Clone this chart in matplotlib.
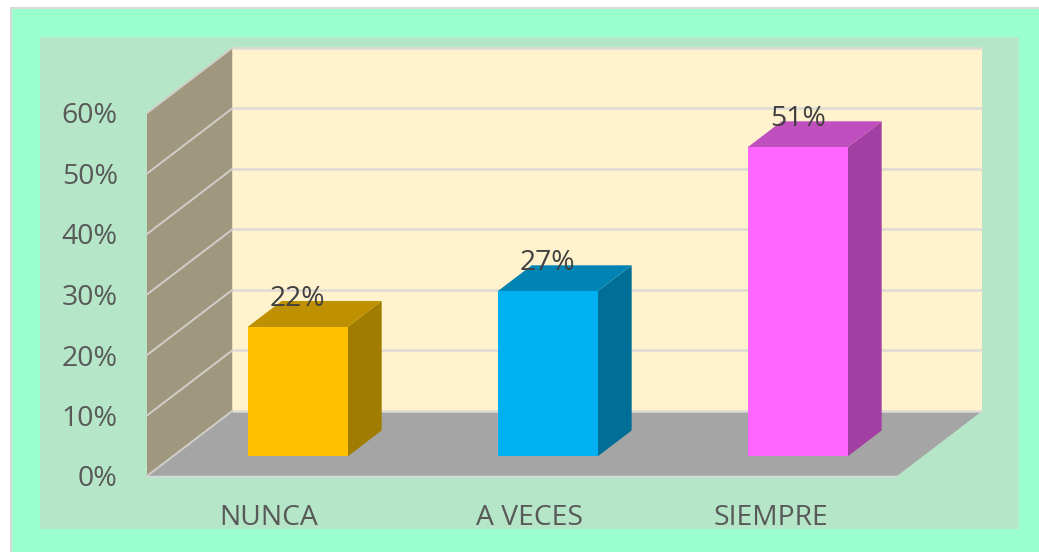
import matplotlib
matplotlib.use("Agg")
import matplotlib.pyplot as plt
from matplotlib.patches import Polygon, Rectangle
from matplotlib.transforms import ScaledTranslation

categories = ["NUNCA", "A VECES", "SIEMPRE"]
values = [21.4, 27.3, 51.1]
value_labels = ["22%", "27%", "51%"]
y_ticks = [0, 10, 20, 30, 40, 50, 60]

front_colors = ["#FFC000", "#00B0F0", "#FF66FF"]
top_colors = ["#BF9000", "#0084B4", "#BF4FBF"]
side_colors = ["#A07C00", "#006F98", "#A33FA3"]

W, H = 1039, 552

# depth of the box, in data units (categories / percent)
DX = 0.341
DY = 10.75
BAR_WIDTH = 0.40
BAR_D0 = 0.30
BAR_D1 = 0.70

plt.rcParams["font.family"] = ["Open Sans", "DejaVu Sans"]


def proj(x, y, d):
    return (x + d * DX, y + d * DY)


def poly(ax, pts, color, z, edge=None, lw=0):
    ax.add_patch(Polygon(pts, closed=True, facecolor=color, edgecolor=edge or color,
                         linewidth=lw, clip_on=False, zorder=z))


fig = plt.figure(figsize=(W / 100, H / 100), dpi=100, facecolor="white")

# background panels, the outer one runs off the right and bottom edges
fig.add_artist(Rectangle((10.5 / W, -10 / H), (W + 10) / W, (H + 2) / H, transform=fig.transFigure,
                         facecolor="#99FFCC", edgecolor="#D9D9D9", linewidth=1.5, zorder=-2))
fig.add_artist(Rectangle((40 / W, (H - 529) / H), 979 / W, 492 / H, transform=fig.transFigure,
                         facecolor="#B5E6C8", edgecolor="none", zorder=-1))

ax = fig.add_axes([147 / W, (H - 476) / H, 750 / W, 363 / H])
ax.patch.set_visible(False)
ax.set_xlim(-0.5, 2.5)
ax.set_ylim(0, 60)
for s in ax.spines.values():
    s.set_visible(False)

xa, xb = -0.5, 2.5
top = y_ticks[-1]

# walls and floor
poly(ax, [proj(xa, 0, 1), proj(xb, 0, 1), proj(xb, top, 1), proj(xa, top, 1)], "#FFF2CC", 1)
poly(ax, [proj(xa, 0, 0), proj(xa, 0, 1), proj(xa, top, 1), proj(xa, top, 0)], "#A0977F", 1)
poly(ax, [proj(xa, 0, 0), proj(xb, 0, 0), proj(xb, 0, 1), proj(xa, 0, 1)], "#A5A5A5", 1)

# gridlines
for t in y_ticks:
    p0, p1, p2 = proj(xa, t, 0), proj(xa, t, 1), proj(xb, t, 1)
    ax.plot([p0[0], p1[0]], [p0[1], p1[1]], color="#D0CEC8", lw=1.4, clip_on=False, zorder=2)
    ax.plot([p1[0], p2[0]], [p1[1], p2[1]], color="#DEDBD6", lw=1.8, clip_on=False, zorder=2,
            solid_capstyle="butt")
ax.plot([xa, xb], [0, 0], color="#D9D9D9", lw=1, clip_on=False, zorder=2)

# bars
for i, v in enumerate(values):
    l, r = i - BAR_WIDTH / 2, i + BAR_WIDTH / 2
    poly(ax, [proj(r, 0, BAR_D0), proj(r, 0, BAR_D1), proj(r, v, BAR_D1), proj(r, v, BAR_D0)], side_colors[i], 3)
    poly(ax, [proj(l, v, BAR_D0), proj(r, v, BAR_D0), proj(r, v, BAR_D1), proj(l, v, BAR_D1)], top_colors[i], 3)
    poly(ax, [proj(l, 0, BAR_D0), proj(r, 0, BAR_D0), proj(r, v, BAR_D0), proj(l, v, BAR_D0)], front_colors[i], 4)
    cx, cy = proj(i, v, BAR_D0)
    ax.annotate(value_labels[i], (cx, cy), xytext=(0, 20.5), textcoords="offset points",
                ha="center", va="center", fontsize=20.3, color="#404040", zorder=5, annotation_clip=False)

# axis labels
ax.set_yticks(y_ticks)
ax.set_yticklabels([f"{t}%" for t in y_ticks], fontsize=20.5, color="#595959")
ax.tick_params(axis="y", length=0, pad=21)
ax.set_xticks(range(len(categories)))
ax.set_xticklabels(categories, fontsize=20.3, color="#595959")
ax.tick_params(axis="x", length=0, pad=20.5)
# the category labels are not quite centred in the original
for lbl, off in zip(ax.get_xticklabels(), [-3.5, 7, -1]):
    lbl.set_transform(lbl.get_transform() + ScaledTranslation(off / 100, 0, fig.dpi_scale_trans))

fig.savefig("out.png", dpi=100)
